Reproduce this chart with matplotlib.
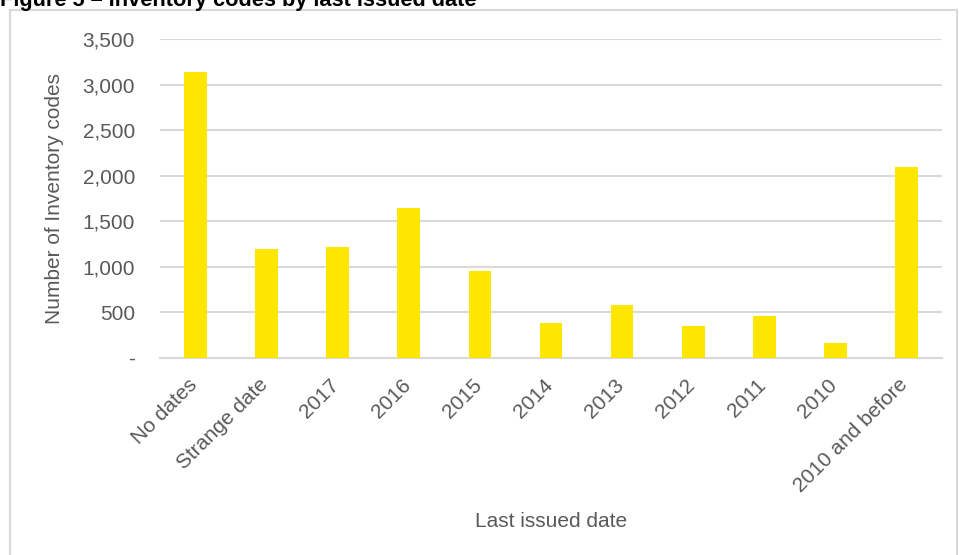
import matplotlib
matplotlib.use("Agg")
import matplotlib.pyplot as plt
from matplotlib.lines import Line2D
from matplotlib.ticker import FuncFormatter, MultipleLocator
from matplotlib.transforms import ScaledTranslation

plt.rcParams['font.family'] = ['Liberation Sans', 'DejaVu Sans']

categories = ["No dates", "Strange date", "2017", "2016", "2015", "2014",
              "2013", "2012", "2011", "2010", "2010 and before"]
counts = [3140, 1200, 1220, 1645, 955, 385, 575, 350, 455, 165, 2095]

BAR_COLOR = "#FFE600"
GRID_COLOR = "#D9D9D9"
TEXT_COLOR = "#595959"
FS = 15

W, H = 959, 555
fig = plt.figure(figsize=(W / 100, H / 100), dpi=100)
ax = fig.add_axes([160 / W, 1 - 357.7 / H, (942 - 160) / W, (357.7 - 39.3) / H])

x = range(len(categories))
ax.bar(x, counts, width=0.32, color=BAR_COLOR, zorder=3)

ax.set_xlim(-0.5, len(categories) - 0.5)
ax.set_ylim(0, 3500)
ax.yaxis.set_major_locator(MultipleLocator(500))
ax.yaxis.set_major_formatter(FuncFormatter(lambda v, p: "-" if v == 0 else f"{int(v):,}"))
ax.grid(axis='y', color=GRID_COLOR, linewidth=1.5, zorder=0)
ax.set_axisbelow(True)

for side in ("top", "right", "left"):
    ax.spines[side].set_visible(False)
ax.spines["bottom"].set_color(GRID_COLOR)
ax.spines["bottom"].set_linewidth(1.5)

ax.tick_params(axis='both', length=0, labelsize=FS, labelcolor=TEXT_COLOR)
ax.tick_params(axis='y', pad=18)
ax.tick_params(axis='x', pad=4)
ax.set_xticks(list(x))
ax.set_xticklabels(categories, rotation=45, ha='right', rotation_mode='anchor')

# nudge the slanted category labels down and to the left
shift = ScaledTranslation(-0.08, -0.12, fig.dpi_scale_trans)
for lbl in ax.get_xticklabels():
    lbl.set_transform(lbl.get_transform() + shift)

ax.set_ylabel("Number of Inventory codes", fontsize=FS, color=TEXT_COLOR)
ax.yaxis.set_label_coords((64 - 160) / 782, 0.5)
ax.set_xlabel("Last issued date", fontsize=FS, color=TEXT_COLOR)
ax.xaxis.set_label_coords(0.5, -0.485)

# chart border
for xs, ys in [([10, 10], [0, H - 10]), ([10, 957], [H - 10, H - 10]), ([957, 957], [0, H - 10])]:
    fig.add_artist(Line2D([v / W for v in xs], [v / H for v in ys],
                          color=GRID_COLOR, linewidth=1.5, transform=fig.transFigure))

fig.text(0.0, 1 - 6 / H, "Figure 5 \u2013 Inventory codes by last issued date",
         fontsize=15.7, fontweight='bold', color='black', va='baseline', ha='left')

fig.savefig("out.png", dpi=100)
